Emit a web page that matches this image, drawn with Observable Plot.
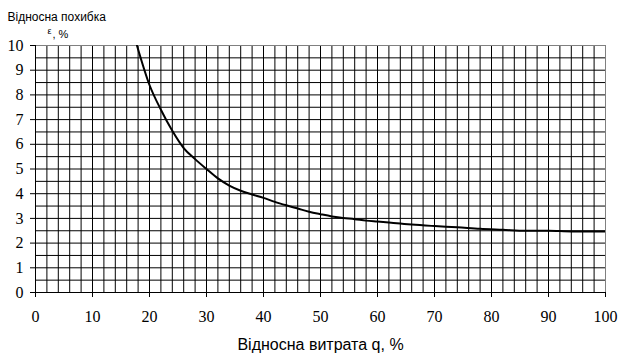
<!DOCTYPE html>
<html><head><meta charset="utf-8">
<script src="https://cdn.jsdelivr.net/npm/d3@7"></script>
<script src="https://cdn.jsdelivr.net/npm/@observablehq/plot@0.6"></script>
<style>body{margin:0;background:#fff}</style>
</head><body><div id="chart"></div>
<script>
const flowRate = [17.8, 20, 22, 24, 26, 28, 30, 32, 34, 36, 38, 40, 42, 44, 46, 48, 50, 52, 54, 56, 58, 60, 62, 64, 66, 70, 74, 78, 82, 86, 90, 94, 100];
const relError = [10, 8.4, 7.4, 6.55, 5.85, 5.4, 5.0, 4.62, 4.33, 4.12, 3.97, 3.83, 3.67, 3.53, 3.4, 3.27, 3.17, 3.08, 3.02, 2.97, 2.91, 2.87, 2.83, 2.79, 2.75, 2.69, 2.64, 2.58, 2.54, 2.5, 2.5, 2.47, 2.47];
const xTicks = [0, 10, 20, 30, 40, 50, 60, 70, 80, 90, 100];
const yTicks = [0, 1, 2, 3, 4, 5, 6, 7, 8, 9, 10];
const xGrid = d3.range(2, 100, 2);
const yGrid = d3.range(0.5, 10, 0.5);
const xTitle = "Відносна витрата q, %";
const yTitle = "Відносна похибка";
const yVar = "ε";
const yUnit = ", %";

const data = flowRate.map((q, i) => ({q, e: relError[i]}));
const sans = "Liberation Sans, Arial, sans-serif";
const serif = "Liberation Serif, Times New Roman, serif";

const plot = Plot.plot({
  width: 624, height: 362,
  marginLeft: 35, marginRight: 19, marginTop: 45, marginBottom: 70,
  style: {background: "#fff", fontFamily: serif, fontSize: "16px", color: "#000"},
  x: {domain: [0, 100]},
  y: {domain: [0, 10]},
  marks: [
    Plot.gridX(xGrid, {stroke: "#000", strokeOpacity: 1}),
    Plot.gridY(yGrid, {stroke: "#000", strokeOpacity: 1}),
    Plot.frame({stroke: "#808080"}),
    Plot.ruleX([0], {stroke: "#000"}),
    Plot.ruleY([0], {stroke: "#000"}),
    Plot.axisX(xTicks, {tickSize: 5, tickPadding: 13, fontSize: 16, fontFamily: serif, label: null}),
    Plot.axisY(yTicks, {tickSize: 5, tickPadding: 7, fontSize: 16, fontFamily: serif, label: null}),
    Plot.line(data, {x: "q", y: "e", stroke: "#000", strokeWidth: 2, curve: "monotone-x", clip: true}),
    Plot.text([yTitle], {text: d => d, frameAnchor: "top-left", dx: -28, dy: -24.3, textAnchor: "start", lineAnchor: "bottom", fontFamily: sans, fontSize: 12}),
    Plot.text([yVar], {text: d => d, frameAnchor: "top-left", dx: 12, dy: -11.5, textAnchor: "start", lineAnchor: "bottom", fontFamily: sans, fontSize: 9}),
    Plot.text([yUnit], {text: d => d, frameAnchor: "top-left", dx: 17, dy: -8, textAnchor: "start", lineAnchor: "bottom", fontFamily: sans, fontSize: 11}),
    Plot.text([xTitle], {text: d => d, frameAnchor: "bottom", dy: 57, textAnchor: "middle", lineAnchor: "bottom", fontFamily: sans, fontSize: 16})
  ]
});
document.getElementById("chart").append(plot);
</script>
</body></html>
